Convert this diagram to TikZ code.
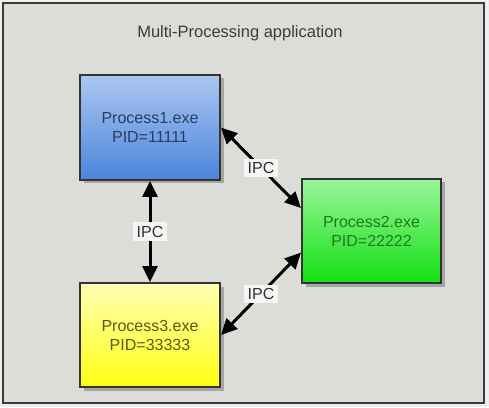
\documentclass[tikz,border=0pt]{standalone}
\usepackage{fontspec}
\setmainfont{Liberation Sans}
\usetikzlibrary{arrows.meta,shadows}
\definecolor{bgout}{HTML}{EEEEEC}
\definecolor{bgin}{HTML}{DCDDD9}
\definecolor{frame}{HTML}{3A3A3A}
\definecolor{bluetop}{HTML}{ABC7F1}
\definecolor{bluebot}{HTML}{4C84DA}
\definecolor{bluetxt}{HTML}{2B3D66}
\definecolor{greentop}{HTML}{9AF59A}
\definecolor{greenbot}{HTML}{12E012}
\definecolor{greentxt}{HTML}{1E7A1E}
\definecolor{yeltop}{HTML}{FFFFB4}
\definecolor{yelbot}{HTML}{FFFF12}
\definecolor{yeltxt}{HTML}{5C5A10}
\definecolor{boxline}{HTML}{333333}
\definecolor{titletxt}{HTML}{3C3C3C}
\definecolor{lblbg}{HTML}{F5F5F3}
\tikzset{
  procbox/.style={draw=boxline, line width=2pt, minimum width=140pt, minimum height=104pt,
    align=center, font=\fontsize{16}{19}\selectfont,
    drop shadow={shadow xshift=3.5pt, shadow yshift=-3.5pt, opacity=0.45, fill=black!60}},
  ipcarrow/.style={line width=3pt, {Triangle[length=16pt,width=15pt]}-{Triangle[length=16pt,width=15pt]}},
  ipclabel/.style={fill=lblbg, inner sep=3.5pt, font=\fontsize{16}{19}\selectfont, text=titletxt!80!black},
}
\begin{document}
\begin{tikzpicture}[x=1pt,y=1pt]
\useasboundingbox (0,0) rectangle (489,407);
\fill[bgout] (0,0) rectangle (489,407);
\draw[frame, line width=2pt, fill=bgin] (3,4) rectangle (484,404);
\node[font=\fontsize{16.5}{19}\selectfont, text=titletxt] (title) at (240,374) {Multi-Processing application};
\node[procbox, top color=bluetop, bottom color=bluebot, text=bluetxt, minimum height=105pt] (b1) at (150,279.5) {Process1.exe\\PID=11111};
\node[procbox, top color=greentop, bottom color=greenbot, text=greentxt, minimum width=139pt] (b2) at (371.5,176) {Process2.exe\\PID=22222};
\node[procbox, top color=yeltop, bottom color=yelbot, text=yeltxt] (b3) at (150,72) {Process3.exe\\PID=33333};
\draw[ipcarrow] (b1.south) -- node[ipclabel] {IPC} (b3.north);
\draw[ipcarrow] (b1.east) -- node[ipclabel] {IPC} (b2.162);
\draw[ipcarrow] (b2.197) -- node[ipclabel] {IPC} (b3.east);
\end{tikzpicture}
\end{document}
